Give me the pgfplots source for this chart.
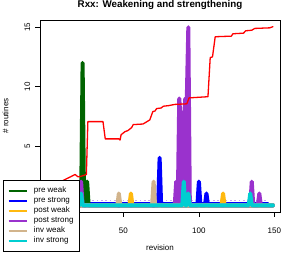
\documentclass[border=0pt]{standalone}
\usepackage{fontspec}
\setmainfont{Liberation Sans}
\usepackage{pgfplots}
\pgfplotsset{compat=1.18}
\definecolor{cgreen}{HTML}{006400}
\definecolor{cblue}{HTML}{0000FF}
\definecolor{corange}{HTML}{FFB90F}
\definecolor{cpurple}{HTML}{9A32CD}
\definecolor{ctan}{HTML}{D2B48C}
\definecolor{ccyan}{HTML}{00CED1}
\definecolor{clav}{HTML}{C8A4F0}
\definecolor{cred}{HTML}{FF0000}
\begin{document}
\begin{tikzpicture}
\useasboundingbox (-40bp,-42bp) rectangle (254bp,212bp);
\begin{axis}[
  at={(0,0)}, anchor=south west,
  scale only axis, width=240bp, height=192bp,
  xmin=-5.2, xmax=153.7, ymin=-0.56, ymax=15.61,
  xtick={50,100,150}, ytick={5,10,15},
  tick align=outside, xtick pos=bottom, ytick pos=left,
  major tick length=4.5bp,
  tick style={black, line width=0.5bp},
  axis line style={line width=0.6bp},
  clip mode=individual,
  font=\fontsize{8bp}{9.6bp}\selectfont,
  /pgf/number format/assume math mode=true,
  xticklabel style={anchor=north, inner sep=0pt, yshift=-11bp},
  yticklabel style={rotate=90, anchor=south, inner sep=0pt, inner ysep=5bp},
  title={Rxx: Weakening and strengthening},
  title style={font=\fontsize{9.8bp}{11bp}\selectfont\bfseries, at={(axis description cs:0.5,1.0484)}, anchor=center, yshift=0pt},
  xlabel={revision},
  xlabel style={at={(axis description cs:0.5,-0.1875)}, anchor=center, yshift=0pt},
  legend cell align=left,
  legend style={at={(-0.15417,-0.20833)}, anchor=south west, draw=black, line width=0.6bp, fill=white,
    inner xsep=4bp, inner ysep=5.5bp, row sep=0bp, font=\fontsize{8bp}{9.6bp}\selectfont,
    nodes={inner xsep=2bp, inner ysep=0bp, text height=6.5bp, text depth=3.5bp},
    /tikz/every odd column/.append style={column sep=4bp}},
  legend image code/.code={\draw[#1, line width=2.6bp, line cap=butt] (0bp,0bp) -- (18bp,0bp);},
  every axis plot/.append style={line join=round, line cap=round},
]
% dotted reference line and thin blue line near the base
\addplot[forget plot, cblue, line width=0.6bp] coordinates {(21,0.25) (146,0.25)};
\addplot[forget plot, clav, line width=1.3bp, dash pattern=on 1.7bp off 2.6bp, line cap=butt] coordinates {(21,0.39) (146,0.39)};
% pre weak
\addplot[cgreen, line width=4bp] coordinates {(1,0) (22,0) (23,12) (24,0) (25,0) (26,2) (27,0) (149,0)};
\addlegendentry{pre weak}
% pre strong
\addplot[cblue, line width=4bp] coordinates {(1,0) (73,0) (74,4) (75,0) (99,0) (100,2) (101,0) (104,0) (105,1) (106,0) (149,0)};
\addlegendentry{pre strong}
% post weak
\addplot[corange, line width=4bp] coordinates {(1,0) (54,0) (55,1) (56,0) (89,0) (90,1) (91,0) (115,0) (116,1) (117,0) (149,0)};
\addlegendentry{post weak}
% post strong (cluster filled)
\addplot[forget plot, fill=cpurple, draw=none] coordinates {(86,0) (87,9) (88,7) (90,7) (91,9) (92,9) (93,15) (94,0)} \closedcycle;
\addplot[cpurple, line width=4bp] coordinates {(1,0) (21,0) (22,2) (23,0) (84,0) (85,2) (86,0) (87,9) (88,7) (90,7) (91,9) (92,9) (93,15) (94,0) (134,0) (135,2) (136,0) (139,0) (140,1) (141,0) (149,0)};
\addlegendentry{post strong}
% inv weak
\addplot[ctan, line width=4bp] coordinates {(1,0) (46,0) (47,1) (48,0) (69,0) (70,2) (71,0) (149,0)};
\addlegendentry{inv weak}
% inv strong
\addplot[ccyan, line width=4bp] coordinates {(1,0) (21,0) (22,1) (23,0) (89,0) (90,2) (91,0) (92,0) (93,1) (94,0) (133,0) (134,1) (135,0) (149,0)};
\addlegendentry{inv strong}
% cumulative line
\addplot[forget plot, cred, line width=1.3bp] coordinates {
(1,1.5) (8,1.95) (12.5,2.25) (15,2.4) (18,2.6) (20,2.4) (22,2.45) (25.5,2.6) (26.5,7.05) (36.5,7.05) (38,5.6) (47,5.6) (47.8,5.5) (48.5,5.95) (51,6.2) (53,6.3) (55.5,6.55) (56.5,6.8) (63,6.85) (65,7.0) (67.5,7.2) (69.5,7.9) (71,7.95) (72,8.15) (75,8.2) (76.5,8.35) (80,8.4) (84,8.5) (92,8.55) (93.5,9.05) (106,9.15) (107.5,12.45) (109,12.5) (110.8,14.2) (121.5,14.25) (122.5,14.45) (129.5,14.5) (131,14.7) (135,14.75) (137,14.9) (147,14.95) (148,15.0) (149,15.05)};
\node[rotate=90, anchor=center, font=\fontsize{8bp}{9.6bp}\selectfont] at (rel axis cs:-0.14375,0.5) {\# routines};
\end{axis}
\end{tikzpicture}
\end{document}
